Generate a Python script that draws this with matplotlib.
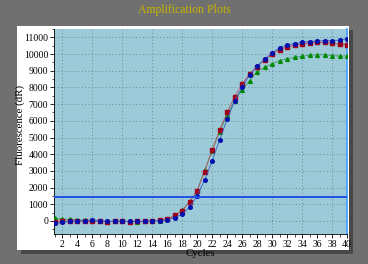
import matplotlib
matplotlib.use("Agg")
import matplotlib.pyplot as plt
from matplotlib.patches import Rectangle
from matplotlib.ticker import MultipleLocator

plt.rcParams['font.family'] = ['Liberation Serif', 'DejaVu Serif']

# data
cycles = list(range(1, 41))
red = [-60, -20, 10, 0, -30, -10, 0, -40, -20, -10, -40, -30, -10, 10, 40, 100,
       330, 620, 1150, 1820, 2950, 4250, 5450, 6500, 7450, 8200, 8820, 9250, 9650, 9990,
       10270, 10430, 10520, 10600, 10670, 10700, 10700, 10650, 10590, 10560]
blue = [-150, -90, -30, -10, 20, 70, 10, -20, -10, -20, -30, -30, -20, 0, 20, 60,
        200, 400, 830, 1500, 2450, 3600, 4850, 6080, 7180, 8030, 8720, 9260, 9700, 10050,
        10380, 10550, 10630, 10700, 10750, 10780, 10800, 10810, 10830, 10920]
green = [150, 130, 90, 40, 60, 10, -10, -30, -20, 10, -30, -40, -20, 20, 20, 90,
         300, 650, 1150, 1800, 3050, 4200, 5330, 6350, 7200, 7850, 8400, 8950, 9200, 9420,
         9600, 9720, 9800, 9870, 9920, 9960, 9960, 9910, 9880, 9880]
threshold = 1450
x_ticks = list(range(2, 41, 2))
y_ticks = list(range(0, 11001, 1000))

fig = plt.figure(figsize=(3.68, 2.64), dpi=100)
fig.patch.set_facecolor('#707070')

# white panel with shadow
fig.patches.append(Rectangle((0.0560, 0.0380), 0.902, 0.848, transform=fig.transFigure,
                             facecolor='#484848', edgecolor='none', zorder=-2))
fig.patches.append(Rectangle((0.0462, 0.0530), 0.902, 0.848, transform=fig.transFigure,
                             facecolor='white', edgecolor='none', zorder=-1))

fig.text(0.5, 0.962, 'Amplification Plots', ha='center', va='center',
         color='#c8b400', fontsize=8.5)

ax = fig.add_axes([0.1476, 0.1136, 0.7954, 0.7765])
ax.set_zorder(2)
ax.set_facecolor('#9dcad8')

ax.plot(cycles, green, color='#3c9a5a', lw=0.6, marker='^', ms=2.7,
        mfc='#008a00', mec='#008a00', zorder=3)
ax.plot(cycles, red, color='#c05060', lw=0.6, marker='s', ms=2.5,
        mfc='#a00018', mec='#a00018', zorder=4)
ax.plot(cycles, blue, color='#3a5cc8', lw=0.6, marker='o', ms=2.6,
        mfc='#0010b0', mec='#0010b0', zorder=5)
ax.axhline(threshold, color='#2050e8', lw=1.4, zorder=6)

ax.set_xlim(0.95, 40)
ax.set_ylim(-780, 11500)
ax.set_xticks(x_ticks)
ax.set_yticks(y_ticks)
ax.xaxis.set_minor_locator(MultipleLocator(1))
ax.yaxis.set_minor_locator(MultipleLocator(500))
ax.tick_params(axis='both', which='major', labelsize=7, length=3, width=0.6,
               pad=1.5, colors='black')
ax.tick_params(axis='both', which='minor', length=1.8, width=0.5)

ax.grid(True, which='major', axis='y', color='#6a8a98', ls=(0, (1, 2.5)), lw=0.7)
for gx in range(2, 41, 4):
    ax.axvline(gx, color='#6a8a98', ls=(0, (1, 2.5)), lw=0.7, zorder=1)
ax.set_axisbelow(True)

ax.spines['top'].set_visible(False)
ax.spines['right'].set_color('#3a9cff')
ax.spines['right'].set_linewidth(1.2)
ax.spines['left'].set_linewidth(0.6)
ax.spines['bottom'].set_linewidth(0.6)

ax.set_xlabel('Cycles', fontsize=7.8, labelpad=0)
ax.set_ylabel('Fluorescence (dR)', fontsize=7.8)
ax.yaxis.set_label_coords(-0.10, 0.53)

fig.savefig('out.png', dpi=100, facecolor=fig.get_facecolor())
